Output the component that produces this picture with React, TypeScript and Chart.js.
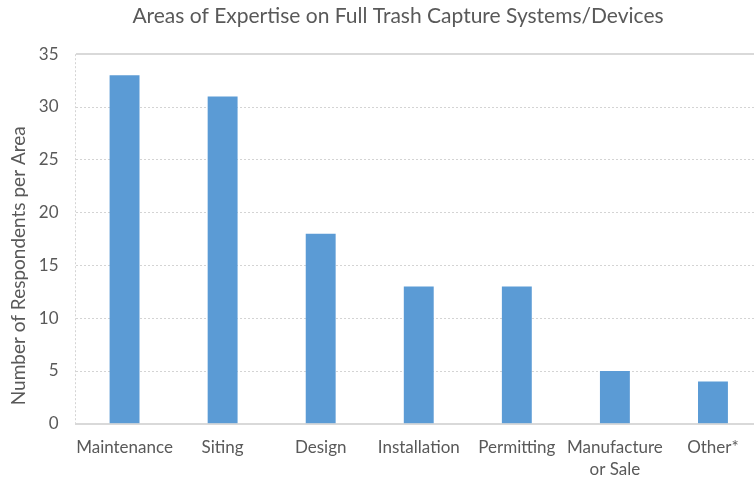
import { useEffect, useRef } from 'react';
import { Chart, registerables } from 'chart.js';

Chart.register(...registerables);

// Survey responses: areas of expertise on full trash capture systems/devices
const categories: (string | string[])[] = [
  'Maintenance',
  'Siting',
  'Design',
  'Installation',
  'Permitting',
  ['Manufacture', 'or Sale'],
  'Other*',
];
const respondents = [33, 31, 18, 13, 13, 5, 4];

const yMin = 0;
const yMax = 35;
const yStep = 5;

const chartTitle = 'Areas of Expertise on Full Trash Capture Systems/Devices';
const yAxisTitle = 'Number of Respondents per Area';

const FONT = 'Lato, "Liberation Sans", sans-serif';
const TEXT = '#595959';
const BAR = '#5B9BD5';
const GRID = '#d4d4d4';
const AXIS = '#d9d9d9';

// Nudge the chart title horizontally after layout (px).
const titleShiftPlugin = {
  id: 'titleShift',
  afterLayout(chart: any) {
    const t = chart.titleBlock;
    if (t) {
      t.left += 30;
    }
  },
};

export default function App() {
  const canvasRef = useRef<HTMLCanvasElement>(null);

  useEffect(() => {
    document.body.style.margin = '0';
    const canvas = canvasRef.current;
    if (!canvas) return;

    const chart = new Chart(canvas, {
      type: 'bar',
      data: {
        labels: categories,
        datasets: [
          {
            data: respondents,
            backgroundColor: BAR,
            barPercentage: 0.305,
            categoryPercentage: 1,
          },
        ],
      },
      plugins: [titleShiftPlugin],
      options: {
        responsive: false,
        animation: false,
        layout: { padding: { top: 4, right: 8, bottom: 0, left: 4 } },
        plugins: {
          legend: { display: false },
          tooltip: { enabled: false },
          title: {
            display: true,
            text: chartTitle,
            color: TEXT,
            font: { family: FONT, size: 21, weight: 'normal' },
            padding: { top: 0, bottom: 25 },
          },
        },
        scales: {
          x: {
            grid: {
              offset: true,
              drawTicks: false,
              lineWidth: 1,
              color: (ctx: any) => (ctx.index === 0 ? GRID : 'rgba(0,0,0,0)'),
            },
            border: { display: true, color: AXIS, width: 2, dash: [2, 2] },
            ticks: {
              color: TEXT,
              font: { family: FONT, size: 17, lineHeight: 1.3 },
              padding: 13,
              maxRotation: 0,
              autoSkip: false,
            },
          },
          y: {
            min: yMin,
            max: yMax,
            ticks: {
              stepSize: yStep,
              color: TEXT,
              font: { family: FONT, size: 17 },
              padding: 17,
            },
            grid: {
              drawTicks: false,
              lineWidth: (ctx: any) => (ctx.tick && ctx.tick.value === yMax ? 2 : 1),
              color: (ctx: any) => (ctx.tick && ctx.tick.value === yMax ? AXIS : GRID),
            },
            border: {
              display: false,
              dash: (ctx: any) => (ctx.tick && ctx.tick.value === yMax ? [] : [2, 2]),
            },
            title: {
              display: true,
              text: yAxisTitle + '           ',
              color: TEXT,
              font: { family: FONT, size: 19 },
              padding: { top: 3, bottom: -8 },
            },
          },
        },
      },
    });

    return () => chart.destroy();
  }, []);

  return (
    <div style={{ width: 754, height: 479, overflow: 'hidden' }}>
      <canvas ref={canvasRef} width={770} height={494} />
    </div>
  );
}
